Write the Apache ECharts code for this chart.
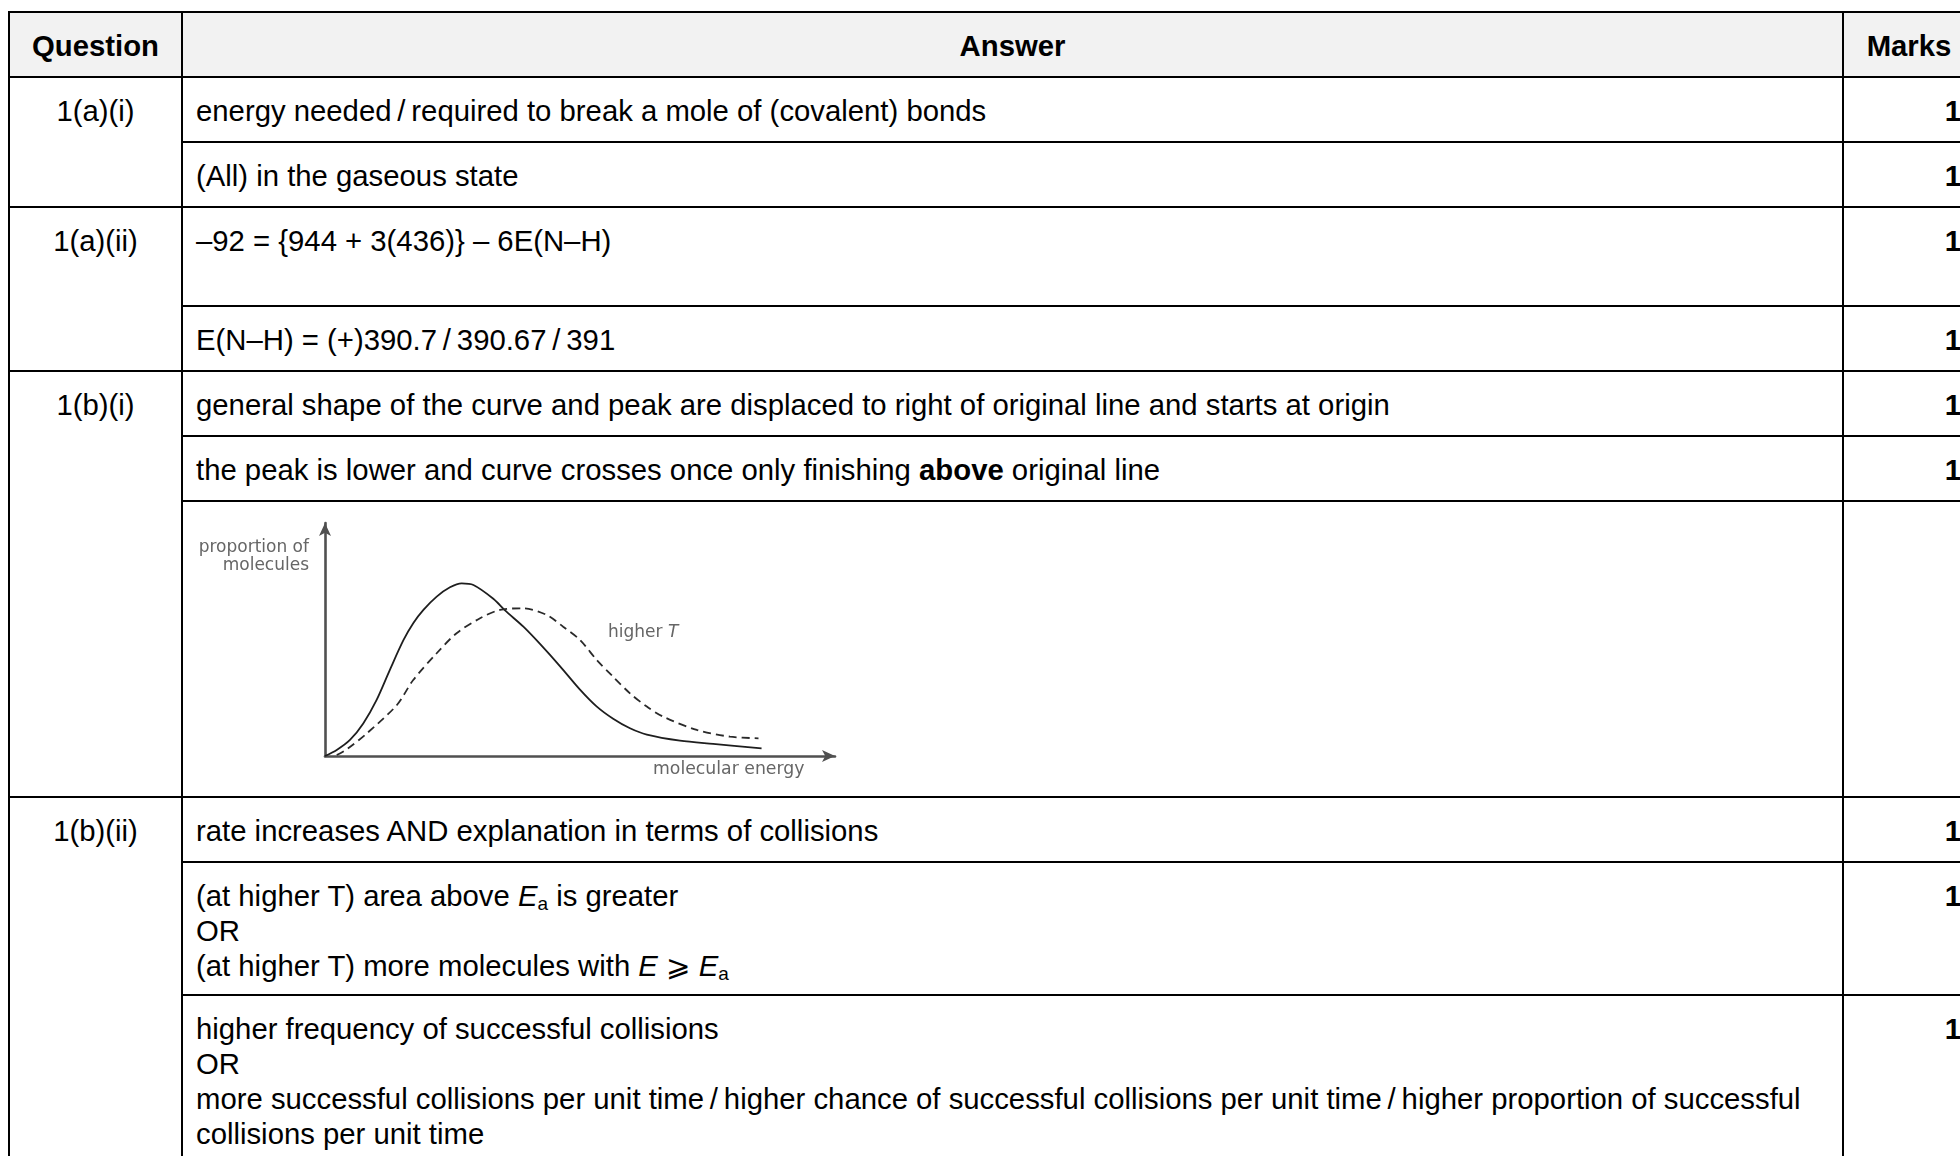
<!DOCTYPE html>
<html>
<head>
<meta charset="utf-8">
<title>1(b)(i) mark scheme</title>
<script src="https://cdn.jsdelivr.net/npm/echarts@6/dist/echarts.min.js"></script>
<style>
  html, body {
    margin: 0;
    padding: 0;
    width: 1960px;
    height: 1156px;
    overflow: hidden;
    background: #fff;
  }
  body {
    font-family: "Liberation Sans", Arial, "DejaVu Sans", sans-serif;
    font-size: 29.3px;
    line-height: 35px;
    color: #000;
  }
  .sheet {
    position: absolute;
    left: 8px;
    top: 11px;
    display: grid;
    grid-template-columns: 171px 1659px 130px;
    grid-template-rows: 63px 63px 63px 97px 63px 63px 63px 294px 63px 131px 168px;
    gap: 2px;
    padding: 2px;
    background: #000;
  }
  .sheet > div {
    background: #fff;
    padding: 15px 13px 0 13px;
    white-space: nowrap;
  }
  .sheet > .hd {
    background: #f2f2f2;
    font-weight: bold;
    text-align: center;
  }
  .q { text-align: center; }
  .m { text-align: right; font-weight: bold; }
  .span2 { grid-row: span 2; }
  .span3 { grid-row: span 3; }
  sub {
    font-size: 19px;
    vertical-align: -4px;
    line-height: 0;
  }
  #energyChart {
    position: absolute;
    left: 183px;
    top: 502px;
    width: 1659px;
    height: 294px;
  }
</style>
</head>
<body>
<div class="sheet">
  <div class="hd">Question</div>
  <div class="hd">Answer</div>
  <div class="hd">Marks</div>

  <div class="q span2">1(a)(i)</div>
  <div>energy needed&thinsp;/&thinsp;required to break a mole of (covalent) bonds</div>
  <div class="m">1</div>
  <div>(All) in the gaseous state</div>
  <div class="m">1</div>

  <div class="q span2">1(a)(ii)</div>
  <div>–92 = {944 + 3(436)} – 6E(N–H)</div>
  <div class="m">1</div>
  <div>E(N–H) = (+)390.7&thinsp;/&thinsp;390.67&thinsp;/&thinsp;391</div>
  <div class="m">1</div>

  <div class="q span3">1(b)(i)</div>
  <div>general shape of the curve and peak are displaced to right of original line and starts at origin</div>
  <div class="m">1</div>
  <div>the peak is lower and curve crosses once only finishing <b>above</b> original line</div>
  <div class="m">1</div>
  <div></div>
  <div></div>

  <div class="q span3">1(b)(ii)</div>
  <div>rate increases AND explanation in terms of collisions</div>
  <div class="m">1</div>
  <div>(at higher T) area above <i>E</i><sub>a</sub> is greater<br>OR<br>(at higher T) more molecules with <i>E</i> ⩾ <i>E</i><sub>a</sub></div>
  <div class="m">1</div>
  <div>higher frequency of successful collisions<br>OR<br>more successful collisions per unit time&thinsp;/&thinsp;higher chance of successful collisions per unit time&thinsp;/&thinsp;higher proportion of successful<br>collisions per unit time</div>
  <div class="m">1</div>
</div>

<div id="energyChart"></div>

<script>
  // original temperature (solid line)
  const lowerTEnergy = [0, 2.3, 4.9, 7.5, 10.1, 12.7, 15.4, 17.3, 19.3, 21.9, 24.5, 26.8, 29.1, 33, 35.3, 38.9, 42.2, 46.1, 50, 53.3, 56.5, 59.8, 63.1, 69.6, 76.1, 85.6]
  const lowerTProportion = [0, 2.6, 6.9, 14, 24, 36.9, 49.8, 57, 62.7, 68.4, 72.4, 74.1, 73.4, 67.5, 62.5, 55.5, 48, 38.5, 28.5, 21.2, 16, 11.9, 9.2, 6.6, 5.2, 3.3]

  // higher temperature (dashed line)
  const higherTEnergy = [2.3, 4.3, 8.2, 14.1, 17.3, 21.9, 25.8, 30.4, 34.3, 38.9, 43.5, 46.7, 50, 53.3, 56.5, 59.8, 63.1, 66.3, 72.9, 79.4, 85]
  const higherTProportion = [0.4, 2.9, 9.7, 21.9, 32.6, 44.1, 52.7, 59.1, 62.7, 63.4, 60.5, 55.5, 49.8, 41.2, 34, 26.9, 21.2, 16.9, 11.2, 8.3, 7.6]

  const axisColor = '#505050'
  const labelColor = '#666666'

  function pairs(xs, ys) {
    return xs.map((x, i) => [x, ys[i]])
  }

  const hiddenAxis = {
    type: 'value',
    min: 0,
    max: 100,
    axisLine: {
      show: true,
      onZero: false,
      symbol: ['none', 'arrow'],
      symbolSize: [9, 13],
      lineStyle: { color: axisColor, width: 2.6 }
    },
    axisTick: { show: false },
    axisLabel: { show: false },
    splitLine: { show: false }
  }

  const chart = echarts.init(document.getElementById('energyChart'))
  chart.setOption({
    animation: false,
    grid: { left: 142, top: 21, width: 510, height: 233 },
    xAxis: hiddenAxis,
    yAxis: hiddenAxis,
    graphic: [
      {
        type: 'text',
        x: 126,
        y: 37,
        style: {
          text: 'proportion of\nmolecules',
          align: 'right',
          fill: labelColor,
          font: '17px "DejaVu Sans"',
          lineHeight: 18
        }
      },
      {
        type: 'text',
        x: 470,
        y: 259,
        style: {
          text: 'molecular energy',
          fill: labelColor,
          font: '17.3px "DejaVu Sans"'
        }
      },
      {
        type: 'text',
        x: 425,
        y: 122,
        style: {
          text: 'higher {t|T}',
          fill: labelColor,
          font: '17px "DejaVu Sans"',
          rich: {
            t: { fontStyle: 'italic', fontSize: 17, fontFamily: 'DejaVu Sans', fill: labelColor }
          }
        }
      }
    ],
    series: [
      {
        name: 'original',
        type: 'line',
        data: pairs(lowerTEnergy, lowerTProportion),
        smooth: 0.3,
        symbol: 'none',
        lineStyle: { color: '#1e1e1e', width: 1.8 }
      },
      {
        name: 'higher T',
        type: 'line',
        data: pairs(higherTEnergy, higherTProportion),
        smooth: 0.3,
        symbol: 'none',
        lineStyle: { color: '#2a2a2a', width: 1.8, type: [8, 5] }
      }
    ]
  })
</script>
</body>
</html>
